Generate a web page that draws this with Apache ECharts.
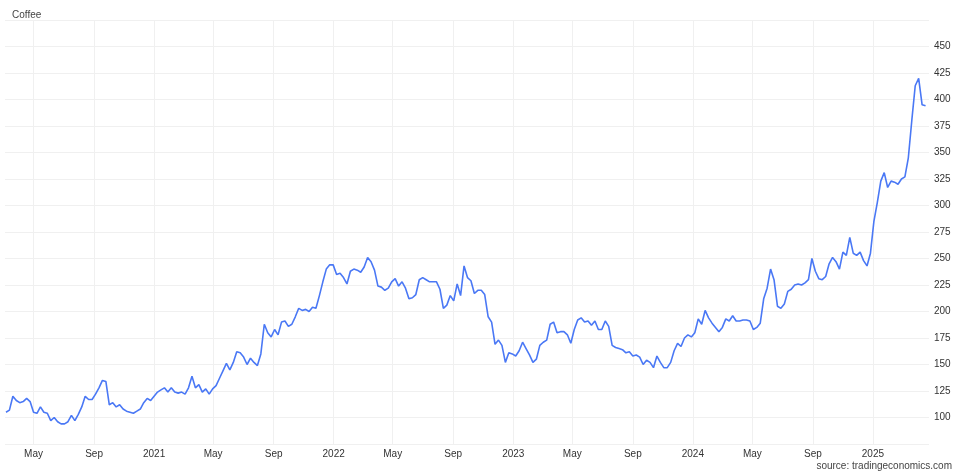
<!DOCTYPE html>
<html>
<head>
<meta charset="utf-8">
<script src="https://cdn.jsdelivr.net/npm/echarts@6/dist/echarts.min.js"></script>
<style>
  html, body { margin: 0; padding: 0; background: #fff; }
  #chart { width: 960px; height: 475px; }
</style>
</head>
<body>
<div id="chart"></div>
<script>
// weekly closes, first week starting 2020-03-06
const startDate = '2020-03-06';
const prices = [
  105, 107, 120, 116, 114, 115, 118, 115, 105, 104, 110, 105, 104, 97, 100, 96, 94, 94, 96, 102,
  97, 103, 110, 120, 117, 117, 122, 128, 135, 134, 112, 114, 110, 112, 108, 106, 105, 104, 106, 108,
  114, 118, 116, 120, 124, 126, 128, 124, 128, 124, 123, 124, 122, 128, 139, 128, 131, 124, 127, 122,
  127, 130, 137, 144, 151, 145, 152, 162, 161, 157, 150, 156, 152, 149, 160, 188, 180, 176, 183, 178,
  190, 191, 186, 188, 195, 203, 201, 202, 200, 204, 203, 215, 228, 240, 244, 244, 235, 236, 232, 226,
  238, 240, 239, 237, 242, 251, 247, 239, 224, 223, 220, 222, 228, 231, 224, 228, 222, 212, 213, 216,
  230, 232, 230, 228, 228, 228, 221, 203, 206, 215, 210, 226, 215, 243, 232, 229, 217, 220, 220, 216,
  195, 190, 169, 173, 168, 152, 161, 160, 158, 163, 171, 165, 159, 152, 155, 168, 171, 173, 188, 190,
  180, 181, 181, 178, 170, 183, 192, 194, 190, 191, 187, 191, 183, 183, 191, 186, 168, 166, 165, 164,
  161, 162, 158, 159, 157, 150, 154, 152, 147, 158, 152, 147, 147, 152, 163, 170, 167, 175, 178, 176,
  180, 193, 188, 201, 194, 189, 185, 181, 185, 193, 191, 196, 191, 191, 192, 192, 191, 183, 185, 189,
  212, 222, 240, 230, 205, 203, 207, 219, 221, 225, 226, 225, 227, 230, 250, 238, 231, 230, 233, 245,
  251, 247, 240, 256, 253, 270, 255, 253, 256, 248, 243, 255, 285, 303, 323, 331, 317, 323, 322, 320,
  325, 327, 345, 380, 413, 420, 395, 394
];
const tickDates = ['2020-05-01', '2020-09-01', '2021-01-01', '2021-05-01', '2021-09-01', '2022-01-01',
  '2022-05-01', '2022-09-01', '2023-01-01', '2023-05-01', '2023-09-01', '2024-01-01',
  '2024-05-01', '2024-09-01', '2025-01-01'];
const monthNames = ['Jan', 'Feb', 'Mar', 'Apr', 'May', 'Jun', 'Jul', 'Aug', 'Sep', 'Oct', 'Nov', 'Dec'];

const day = 24 * 3600 * 1000;
const week = 7 * day;
const t0 = new Date(startDate + 'T00:00:00Z').getTime();
const data = prices.map((v, i) => [t0 + i * week, v]);
const ticks = tickDates.map(d => new Date(d + 'T00:00:00Z').getTime());

const chart = echarts.init(document.getElementById('chart'));
chart.setOption({
  animation: false,
  title: {
    text: 'Coffee', left: 7, top: 5,
    textStyle: { fontSize: 10, fontWeight: 'normal', color: '#444', fontFamily: 'Arial, Liberation Sans' }
  },
  graphic: [{
    type: 'text', right: 8, bottom: 4,
    style: { text: 'source: tradingeconomics.com', fontSize: 10, fill: '#444', fontFamily: 'Arial, Liberation Sans' }
  }],
  grid: { left: 5, right: 31, top: 20, bottom: 31 },
  xAxis: {
    type: 'value',
    min: t0 - 2 * day,
    max: t0 + (prices.length - 1) * week + week,
    axisLine: { show: false },
    axisTick: { show: false, customValues: ticks },
    splitLine: { show: true, lineStyle: { color: '#f0f0f0' } },
    axisLabel: {
      customValues: ticks,
      color: '#333', fontSize: 10, fontFamily: 'Arial, Liberation Sans', margin: 5,
      formatter: v => {
        const d = new Date(v);
        return d.getUTCMonth() === 0 ? String(d.getUTCFullYear()) : monthNames[d.getUTCMonth()];
      }
    }
  },
  yAxis: {
    type: 'value', position: 'right', min: 75, max: 475, interval: 25,
    axisLine: { show: false }, axisTick: { show: false },
    splitLine: { lineStyle: { color: '#f0f0f0' } },
    axisLabel: {
      color: '#333', fontSize: 10, fontFamily: 'Arial, Liberation Sans', margin: 5,
      formatter: v => (v === 75 || v === 475) ? '' : String(v)
    }
  },
  series: [{
    type: 'line', data: data, showSymbol: false,
    lineStyle: { color: '#4a78f5', width: 1.6 }
  }]
});
</script>
</body>
</html>
